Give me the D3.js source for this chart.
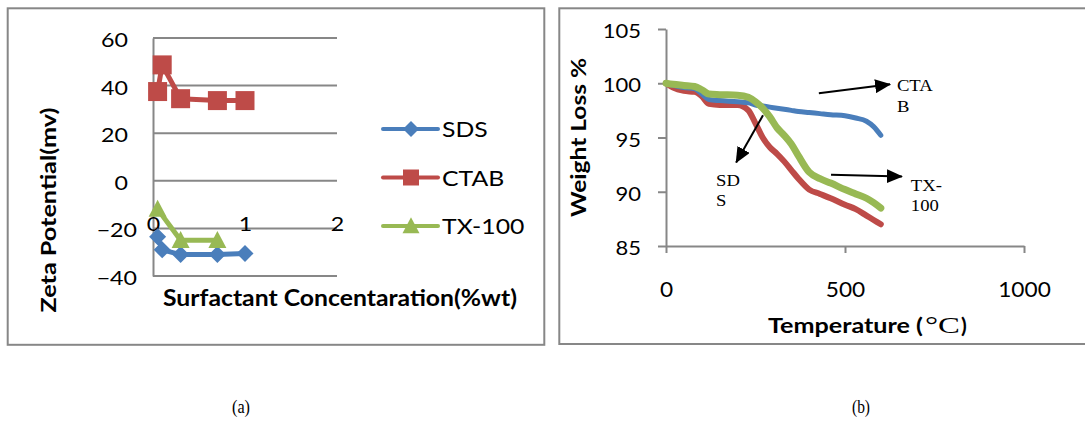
<!DOCTYPE html>
<html>
<head>
<meta charset="utf-8">
<script src="https://cdn.jsdelivr.net/npm/d3@7"></script>
<style>
    body { margin: 0; background: #fff; }
    svg { display: block; }
</style>
</head>
<body>
<svg id="chart" width="1085" height="421"></svg>
<script>
// Panel (a): zeta potential vs surfactant concentration
const concSDS = [0.05, 0.1, 0.3, 0.7, 1.0];
const zetaSDS = [-23.5, -29, -31, -31, -30.5];
const concCTAB = [0.05, 0.1, 0.3, 0.7, 1.0];
const zetaCTAB = [37.5, 48.7, 34.5, 33.7, 33.7];
const concTX = [0.05, 0.3, 0.7];
const zetaTX = [-11.9, -25, -25];
const zetaTicks = [-40, -20, 0, 20, 40, 60];
const concTicks = [0, 1, 2];
const legendNames = ['SDS', 'CTAB', 'TX-100'];

// Panel (b): weight loss vs temperature
const tgaTemp = [0, 20, 50, 80, 100, 120, 150, 200, 230, 250, 270, 290, 310, 330, 350, 370, 400, 430, 460, 500, 530, 560, 580, 600];
const tgaCTAB = [100, 99.8, 99.6, 99.5, 99.0, 98.5, 98.4, 98.3, 98.2, 98.0, 97.9, 97.8, 97.7, 97.6, 97.5, 97.4, 97.3, 97.2, 97.1, 97.0, 96.8, 96.5, 96.0, 95.2];
const tgaSDS = [100, 99.6, 99.3, 99.2, 98.8, 98.1, 98.0, 98.0, 97.5, 96.3, 95.0, 94.1, 93.5, 92.8, 92.0, 91.2, 90.2, 89.8, 89.4, 88.8, 88.4, 87.8, 87.4, 87.0];
const tgaTX = [100, 99.9, 99.8, 99.7, 99.4, 99.0, 98.95, 98.9, 98.7, 98.3, 97.7, 96.9, 95.9, 95.2, 94.4, 93.3, 91.8, 91.2, 90.8, 90.2, 89.8, 89.4, 89.0, 88.5];
const weightTicks = [85, 90, 95, 100, 105];
const tempTicks = [0, 500, 1000];
// arrow annotations, in data units (temperature, weight)
const noteLines = [['CTA', 'B'], ['SD', 'S'], ['TX-', '100']];
const noteFrom = [[427, 99.07], [271, 97.04], [461, 91.57]];
const noteTo = [[626, 99.9], [196, 92.7], [659, 91.4]];
const noteAt = [[645, 99.26], [140, 90.56], [684, 90.1]];

const colors = { blue: '#4a7ebb', red: '#be4b48', green: '#98b954' };
const gray = '#878787';
const sans = 'Lato, "Open Sans", sans-serif';
const serif = '"Liberation Serif", "Times New Roman", serif';

const svg = d3.select('#chart');
svg.append('rect').attr('width', 1085).attr('height', 421).attr('fill', '#fff');

// Text helpers: the source fonts are wider than Lato, so stretch a bit
const stretch = (sel, k) => sel.each(function () {
    const w = this.getComputedTextLength();
    d3.select(this).attr('textLength', w * k).attr('lengthAdjust', 'spacingAndGlyphs');
});
const fitTo = (sel, len) => sel.attr('textLength', len).attr('lengthAdjust', 'spacingAndGlyphs');

// Marker shapes
const diamond = r => `M0,${-r}L${r},0L0,${r}L${-r},0Z`;
const square = s => `M${-s / 2},${-s / 2}h${s}v${s}h${-s}Z`;
const triangle = (w, h) => `M0,${-h * 0.55}L${w / 2},${h * 0.45}L${-w / 2},${h * 0.45}Z`;

// Panel frames
svg.append('rect').attr('x', 7.7).attr('y', 8.3).attr('width', 536.6).attr('height', 336.5)
    .attr('fill', 'none').attr('stroke', gray).attr('stroke-width', 2);
svg.append('rect').attr('x', 559.3).attr('y', 8.3).attr('width', 540).attr('height', 335.7)
    .attr('fill', 'none').attr('stroke', gray).attr('stroke-width', 2);

/* ---------------- Panel (a) ---------------- */
const xA = d3.scaleLinear().domain([0, 2]).range([153, 337]);
const yA = d3.scaleLinear().domain([-40, 60]).range([276, 38]);
const gA = svg.append('g');

// Gridlines
gA.selectAll('.grid')
    .data(zetaTicks)
    .enter()
    .append('line')
    .attr('x1', xA(0)).attr('x2', xA(2))
    .attr('y1', d => yA(d)).attr('y2', d => yA(d))
    .attr('stroke', gray).attr('stroke-width', 2);

// Y axis
const axA = gA.append('g')
    .attr('transform', `translate(${xA(0)},0)`)
    .call(d3.axisLeft(yA).tickValues(zetaTicks).tickSize(0).tickSizeOuter(0));
axA.select('.domain').attr('stroke', gray).attr('stroke-width', 2);
axA.selectAll('text')
    .attr('x', d => d < 0 ? -16 : -25).attr('y', 8.5).attr('dy', null)
    .attr('font-family', sans).attr('font-size', 20).attr('fill', '#000')
    .call(stretch, 1.16);

// X axis labels
const axXA = gA.append('g')
    .attr('transform', 'translate(0,218)')
    .call(d3.axisBottom(xA).tickValues(concTicks).tickSize(0).tickFormat(d3.format('d')));
axXA.select('.domain').remove();
axXA.selectAll('text')
    .attr('y', 12.5).attr('dy', null)
    .attr('font-family', sans).attr('font-size', 20).attr('fill', '#000')
    .call(stretch, 1.16);

// Series
const seriesA = [
    { conc: concSDS, zeta: zetaSDS, color: colors.blue, shape: diamond(8.5), legendShape: diamond(8) },
    { conc: concCTAB, zeta: zetaCTAB, color: colors.red, shape: square(19), legendShape: square(16) },
    { conc: concTX, zeta: zetaTX, color: colors.green, shape: triangle(18, 17), legendShape: triangle(17, 16) }
];
const lineA = d3.line().x(d => xA(d[0])).y(d => yA(d[1]));
seriesA.forEach(s => {
    const pts = s.conc.map((c, i) => [c, s.zeta[i]]);
    gA.append('path')
        .datum(pts)
        .attr('fill', 'none')
        .attr('stroke', s.color)
        .attr('stroke-width', 5)
        .attr('stroke-linejoin', 'round')
        .attr('d', lineA);
    gA.selectAll(null)
        .data(pts)
        .enter()
        .append('path')
        .attr('transform', d => `translate(${xA(d[0])},${yA(d[1])})`)
        .attr('d', s.shape)
        .attr('fill', s.color);
});

// Axis titles
gA.append('text')
    .attr('x', 340).attr('y', 306)
    .attr('text-anchor', 'middle')
    .attr('font-family', sans).attr('font-size', 22).attr('font-weight', 'bold')
    .text('Surfactant Concentaration(%wt)')
    .call(fitTo, 354);
gA.append('text')
    .attr('transform', 'translate(56,210) rotate(-90)')
    .attr('text-anchor', 'middle')
    .attr('font-family', sans).attr('font-size', 21).attr('font-weight', 'bold')
    .text('Zeta Potential(mv)')
    .call(fitTo, 205);

// Legend
const legA = gA.selectAll('.leg')
    .data(seriesA)
    .enter()
    .append('g')
    .attr('transform', (d, i) => `translate(383,${129 + i * 48.5})`);
legA.append('line')
    .attr('x1', 0).attr('x2', 55)
    .attr('stroke', d => d.color).attr('stroke-width', 4).attr('stroke-linecap', 'round');
legA.append('path')
    .attr('transform', 'translate(28,0)')
    .attr('d', d => d.legendShape)
    .attr('fill', d => d.color);
legA.append('text')
    .attr('x', 59).attr('y', 8)
    .attr('font-family', sans).attr('font-size', 21).attr('fill', '#000')
    .text((d, i) => legendNames[i])
    .call(stretch, 1.18);

/* ---------------- Panel (b) ---------------- */
const xB = d3.scaleLinear().domain([0, 1000]).range([666, 1024]);
const yB = d3.scaleLinear().domain([85, 105]).range([246, 29]);
const gB = svg.append('g');

const axYB = gB.append('g')
    .attr('transform', `translate(${xB(0)},0)`)
    .call(d3.axisLeft(yB).tickValues(weightTicks).tickSize(8).tickSizeOuter(0));
axYB.select('.domain').attr('stroke', gray).attr('stroke-width', 2);
axYB.selectAll('line').attr('stroke', gray).attr('stroke-width', 2);
axYB.selectAll('text')
    .attr('x', -25).attr('y', 8.5).attr('dy', null)
    .attr('font-family', sans).attr('font-size', 20).attr('fill', '#000')
    .call(stretch, 1.1);

const axXB = gB.append('g')
    .attr('transform', `translate(0,${yB(85)})`)
    .call(d3.axisBottom(xB).tickValues(tempTicks).tickSize(7).tickSizeOuter(0).tickFormat(d3.format('d')));
axXB.select('.domain').attr('stroke', gray).attr('stroke-width', 2);
axXB.selectAll('line').attr('stroke', gray).attr('stroke-width', 2);
axXB.selectAll('text')
    .attr('y', 51).attr('dy', null)
    .attr('font-family', sans).attr('font-size', 22).attr('fill', '#000')
    .call(stretch, 1.03);

// Curves
const lineB = d3.line()
    .x(d => xB(d[0]))
    .y(d => yB(d[1]))
    .curve(d3.curveMonotoneX);
const seriesB = [
    { w: tgaSDS, color: colors.red, width: 6 },
    { w: tgaCTAB, color: colors.blue, width: 5 },
    { w: tgaTX, color: colors.green, width: 7 }
];
seriesB.forEach(s => {
    gB.append('path')
        .datum(tgaTemp.map((t, i) => [t, s.w[i]]))
        .attr('fill', 'none')
        .attr('stroke', s.color)
        .attr('stroke-width', s.width)
        .attr('stroke-linecap', 'round')
        .attr('stroke-linejoin', 'round')
        .attr('d', lineB);
});

// Arrow annotations
svg.append('defs').append('marker')
    .attr('id', 'head')
    .attr('viewBox', '0 0 16 14')
    .attr('refX', 15).attr('refY', 7)
    .attr('markerWidth', 16).attr('markerHeight', 14)
    .attr('markerUnits', 'userSpaceOnUse')
    .attr('orient', 'auto')
    .append('path')
    .attr('d', 'M0,0L16,7L0,14Z')
    .attr('fill', '#000');

noteLines.forEach((lines, i) => {
    gB.append('line')
        .attr('x1', xB(noteFrom[i][0])).attr('y1', yB(noteFrom[i][1]))
        .attr('x2', xB(noteTo[i][0])).attr('y2', yB(noteTo[i][1]))
        .attr('stroke', '#000').attr('stroke-width', 2)
        .attr('marker-end', 'url(#head)');
    lines.forEach((txt, j) => {
        gB.append('text')
            .attr('x', xB(noteAt[i][0]))
            .attr('y', yB(noteAt[i][1]) + j * 20.5)
            .attr('font-family', serif).attr('font-size', 16.5).attr('fill', '#000')
            .text(txt)
            .call(stretch, 1.13);
    });
});

// Axis titles
gB.append('text')
    .attr('transform', 'translate(586,137.5) rotate(-90)')
    .attr('text-anchor', 'middle')
    .attr('font-family', sans).attr('font-size', 20).attr('font-weight', 'bold')
    .text('Weight Loss %')
    .call(fitTo, 159);
gB.append('text')
    .attr('x', 768).attr('y', 333)
    .attr('font-family', sans).attr('font-size', 21).attr('font-weight', 'bold')
    .text('Temperature (')
    .call(fitTo, 155);
gB.append('text')
    .attr('x', 925).attr('y', 333)
    .attr('font-family', serif).attr('font-size', 24)
    .text('°C')
    .call(fitTo, 35);
gB.append('text')
    .attr('x', 961).attr('y', 333)
    .attr('font-family', sans).attr('font-size', 21).attr('font-weight', 'bold')
    .text(')');

// Captions
svg.selectAll('.caption')
    .data(['(a)', '(b)'])
    .enter()
    .append('text')
    .attr('x', (d, i) => i === 0 ? 241 : 861)
    .attr('y', 413)
    .attr('text-anchor', 'middle')
    .attr('font-family', serif).attr('font-size', 19)
    .text(d => d)
    .call(fitTo, 18);
</script>
</body>
</html>
